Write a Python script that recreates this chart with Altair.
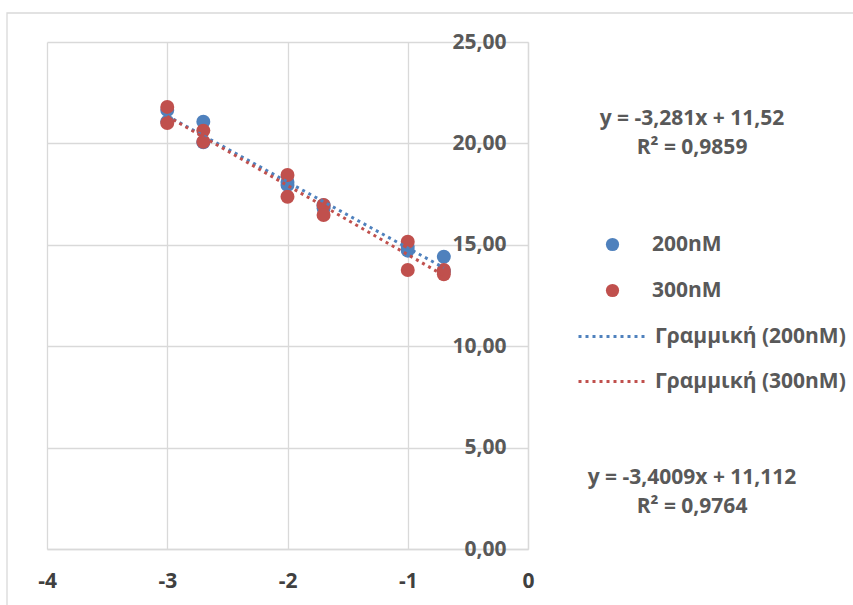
import altair as alt
import pandas as pd

# ---- data ----
x_vals = [-3, -3, -2.7, -2.7, -2, -2, -1.7, -1.7, -1, -1, -0.7, -0.7]
y_200 = [21.65, 21.07, 21.07, 20.05, 18.10, 17.95, 16.95, 16.80, 14.90, 14.71, 14.41, 13.70]
y_300 = [21.80, 21.00, 20.63, 20.08, 18.44, 17.37, 16.96, 16.47, 15.15, 13.76, 13.76, 13.55]
series = ["200nM", "300nM"]
trend_labels = ["Γραμμική (200nM)", "Γραμμική (300nM)"]
eq_200 = "y = -3,281x + 11,52\nR² = 0,9859"
eq_300 = "y = -3,4009x + 11,112\nR² = 0,9764"
x_ticks = [-4, -3, -2, -1, 0]
y_ticks = [0, 5, 10, 15, 20, 25]

BLUE = "#4F81BD"
RED = "#C0504D"
GRID = "#d9d9d9"
FONT = "Open Sans"
FS = 21

rows = []
for s, ys in zip(series, [y_200, y_300]):
    for xv, yv in zip(x_vals, ys):
        rows.append({"x": xv, "y": yv, "series": s, "trend": f"Γραμμική ({s})"})
df = pd.DataFrame(rows)

xscale = alt.Scale(domain=[-4, 0], nice=False, zero=False)
yscale = alt.Scale(domain=[0, 25], nice=False)

x_axis = alt.Axis(
    values=x_ticks, title=None, grid=True, gridColor=GRID, gridWidth=1.3,
    domainColor=GRID, domainWidth=1.3, ticks=False, labelFlush=False,
    labelExpr="'' + datum.value", labelFont=FONT, labelFontSize=FS,
    labelFontWeight="bold", labelColor="#404040", labelPadding=21,
)
y_axis = alt.Axis(
    values=y_ticks, orient="right", title=None, grid=True, gridColor=GRID,
    gridWidth=1.3, domainColor=GRID, domainWidth=1.3, ticks=False,
    labelExpr="replace(format(datum.value, '.2f'), '.', ',')",
    labelAlign="right", labelBaseline="middle", labelPadding=-22,
    labelFont=FONT, labelFontSize=FS, labelFontWeight="bold",
    labelColor="#595959", labelFlush=False, labelOverlap=False,
)

border = alt.Chart(pd.DataFrame({"a": [0]})).mark_rect(
    fillOpacity=0, stroke=GRID, strokeWidth=1.3
).encode(
    x=alt.value(-40), y=alt.value(-29), x2=alt.value(900), y2=alt.value(700)
)

points = alt.Chart(df).mark_circle(size=195, opacity=1).encode(
    x=alt.X("x:Q", scale=xscale, axis=x_axis),
    y=alt.Y("y:Q", scale=yscale, axis=y_axis),
    fill=alt.Fill(
        "series:N",
        scale=alt.Scale(domain=series, range=[BLUE, RED]),
        legend=alt.Legend(
            title=None, orient="none", legendX=555, legendY=192,
            symbolType="circle", symbolSize=175, symbolStrokeWidth=0,
            labelOffset=29, rowPadding=24, padding=0, labelLimit=0,
            labelFont=FONT, labelFontSize=FS, labelFontWeight="bold",
            labelColor="#595959",
        ),
    ),
)

lines = alt.Chart(df).transform_regression(
    "x", "y", groupby=["trend"]
).mark_line(strokeWidth=3, strokeDash=[3, 4]).encode(
    x=alt.X("x:Q", scale=xscale),
    y=alt.Y("y:Q", scale=yscale),
    stroke=alt.Stroke(
        "trend:N",
        scale=alt.Scale(domain=trend_labels, range=[BLUE, RED]),
        legend=alt.Legend(
            title=None, orient="none", legendX=530, legendY=260,
            symbolType="stroke", symbolSize=4356, symbolStrokeWidth=3,
            symbolDash=[3, 4], labelOffset=9, rowPadding=-23, padding=0,
            labelLimit=0,
            labelFont=FONT, labelFontSize=FS, labelFontWeight="bold",
            labelColor="#595959",
        ),
    ),
)

eq_text = alt.Chart(pd.DataFrame({"t": [eq_200, eq_300], "k": [0, 1]}))
eq1 = eq_text.transform_filter("datum.k == 0").mark_text(
    align="center", baseline="middle", lineBreak="\n", lineHeight=29,
    font=FONT, fontSize=FS, fontWeight="bold", color="#595959",
).encode(text="t:N", x=alt.value(645), y=alt.value(77))
eq2 = eq_text.transform_filter("datum.k == 1").mark_text(
    align="center", baseline="middle", lineBreak="\n", lineHeight=29,
    font=FONT, fontSize=FS, fontWeight="bold", color="#595959",
).encode(text="t:N", x=alt.value(645), y=alt.value(436))

chart = alt.layer(border, points, lines, eq1, eq2).resolve_scale(
    fill="independent", stroke="independent"
).properties(
    width=481, height=507,
    autosize=alt.AutoSizeParams(type="none"),
    padding={"left": 47, "top": 42, "right": 325, "bottom": 56},
    background="white",
).configure_view(stroke=None)

chart.save("out.html", embed_options={"renderer": "svg", "actions": False})
